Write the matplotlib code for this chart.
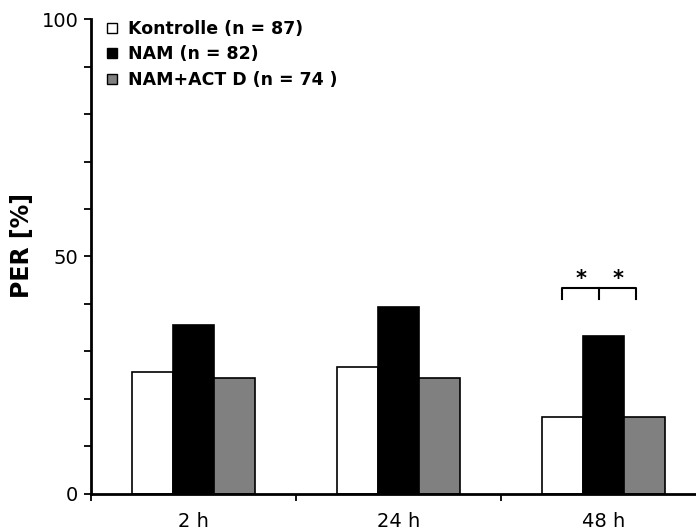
import matplotlib
matplotlib.use("Agg")
import matplotlib.pyplot as plt
from matplotlib.lines import Line2D
import numpy as np

# PER values (%) per time point
timepoints = ["2 h", "24 h", "48 h"]
kontrolle = [25.7, 26.7, 16.2]
nam = [35.6, 39.4, 33.3]
nam_actd = [24.4, 24.4, 16.2]

series_labels = ["Kontrolle (n = 87)", "NAM (n = 82)", "NAM+ACT D (n = 74 )"]
series_colors = ["white", "black", "#808080"]

fig = plt.figure(figsize=(6.96, 5.31), dpi=100)
ax = fig.add_axes([0.1307, 0.0697, 0.8836, 0.8945])

x = np.arange(len(timepoints))
w = 0.2
for i, (vals, col) in enumerate(zip([kontrolle, nam, nam_actd], series_colors)):
    ax.bar(x + (i - 1) * w, vals, width=w, color=col, edgecolor="black",
           linewidth=1.2, zorder=2)

ax.set_xlim(-0.5, 2.5)
ax.set_ylim(0, 100)

# y axis: labels at 0/50/100, ticks every 10
ax.set_yticks([0, 50, 100])
ax.set_yticks(np.arange(0, 101, 10), minor=True)
ax.tick_params(axis="y", which="both", direction="out", length=5, width=1.3,
               labelsize=14, pad=4)

# x axis: ticks between groups, labels at group centres
ax.set_xticks([-0.5, 0.5, 1.5])
ax.set_xticklabels([])
ax.set_xticks(x, minor=True)
ax.set_xticklabels(timepoints, minor=True)
ax.tick_params(axis="x", which="major", direction="out", length=5, width=1.3)
ax.tick_params(axis="x", which="minor", length=0, labelsize=14, pad=13)

for side in ["top", "right"]:
    ax.spines[side].set_visible(False)
for side in ["left", "bottom"]:
    ax.spines[side].set_linewidth(2)

ax.set_ylabel("PER [%]", fontsize=17, fontweight="bold")
ax.yaxis.set_label_coords(-0.093, 0.524)

# significance bracket at 48 h
bx = [1.8, 1.98, 2.16]
by, leg = 43.4, 2.3
ax.plot([bx[0], bx[0], bx[2], bx[2]], [by - leg, by, by, by - leg],
        color="black", lw=1.5, clip_on=False)
ax.plot([bx[1], bx[1]], [by, by - leg], color="black", lw=1.5)
for sx in [1.89, 2.07]:
    ax.text(sx, by - 0.2, "*", ha="center", va="bottom", fontsize=15,
            fontweight="bold")

handles = [Line2D([], [], marker="s", linestyle="none", markersize=7,
                  markerfacecolor=c, markeredgecolor="black", markeredgewidth=1)
           for c in series_colors]
ax.legend(handles, series_labels, loc="upper left",
          bbox_to_anchor=(0.1513, 0.962), bbox_transform=fig.transFigure,
          frameon=False, prop={"weight": "bold", "size": 12.5},
          handlelength=0.77, handletextpad=0.54, labelspacing=0.42,
          borderpad=0, borderaxespad=0)

fig.savefig("out.png", dpi=100)
